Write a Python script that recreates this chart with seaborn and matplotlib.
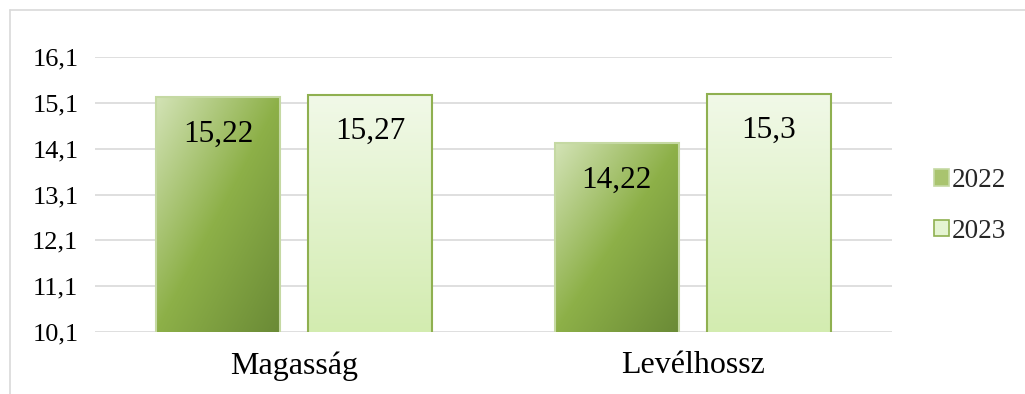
import numpy as np
import pandas as pd
import matplotlib
matplotlib.use("Agg")
import matplotlib.pyplot as plt
import seaborn as sns
from matplotlib.colors import LinearSegmentedColormap
from matplotlib.patches import Patch
from matplotlib.lines import Line2D

categories = ["Magasság", "Levélhossz"]
years = ["2022", "2023"]
values_2022 = [15.22, 14.22]
values_2023 = [15.27, 15.3]
label_2022 = ["15,22", "14,22"]
label_2023 = ["15,27", "15,3"]
y_ticks = [10.1, 11.1, 12.1, 13.1, 14.1, 15.1, 16.1]
y_tick_labels = ["10,1", "11,1", "12,1", "13,1", "14,1", "15,1", "16,1"]

df = pd.DataFrame({
    "cat": categories * 2,
    "year": [years[0]] * 2 + [years[1]] * 2,
    "val": values_2022 + values_2023,
})

sns.set_theme(style="white")
plt.rcParams["font.family"] = ["Liberation Serif", "DejaVu Serif"]

W, H = 1025, 394
fig = plt.figure(figsize=(W / 100, H / 100), dpi=100)
ax = fig.add_axes([95 / W, 1 - 332 / H, (892 - 95) / W, (332 - 57) / H])

sns.barplot(data=df, x="cat", y="val", hue="year", order=categories, hue_order=years,
            width=0.764, gap=0.184, ax=ax, legend=False,
            palette=["#8db048", "#e5f4d2"], saturation=1, errorbar=None)

ax.set_ylim(y_ticks[0], y_ticks[-1])
ax.set_yticks(y_ticks)
ax.set_yticklabels(y_tick_labels)
ax.set_xlabel("")
ax.set_ylabel("")
for s in ax.spines.values():
    s.set_visible(False)
ax.yaxis.grid(True, color="#d9d9d9", lw=1.2)
ax.set_axisbelow(True)
ax.tick_params(axis="y", length=0, pad=12, labelsize=19, labelcolor="black")
ax.tick_params(axis="x", length=0, pad=14, labelsize=23, labelcolor="black")

cmap22 = LinearSegmentedColormap.from_list("g22", ["#d3e3b6", "#8db048", "#6a8a36"])
cmap23 = LinearSegmentedColormap.from_list("g23", ["#f1f9e8", "#d3ecb0"])

patches = list(ax.patches)
n = len(categories)
labels = label_2022 + label_2023
edgecols = ["#c5d9a3"] * n + ["#8fb050"] * n
for i, p in enumerate(patches):
    x0 = p.get_x()
    w = p.get_width()
    top = p.get_height() + p.get_y()
    if i < n:
        u = np.linspace(0, 1, 200)
        U, V = np.meshgrid(u, u)
        grad = cmap22((U + V) / 2)
    else:
        v = np.linspace(0, 1, 200)[:, None] * np.ones((1, 10))
        grad = cmap23(v)
    im = ax.imshow(grad, extent=(x0, x0 + w, y_ticks[0], top), origin="upper",
                   aspect="auto", zorder=2, interpolation="bilinear")
    im.set_clip_path(p)
    p.set_facecolor("none")
    p.set_edgecolor(edgecols[i])
    p.set_linewidth(1.5)
    p.set_zorder(3)
    ax.annotate(labels[i], (x0 + w / 2, top), xytext=(0, -16), textcoords="offset points",
                ha="center", va="top", fontsize=22.5, color="black", zorder=4)

ax.set_xlim(-0.5, n - 0.5)

handles = [Patch(facecolor="#a9c46f", edgecolor="#c5d9a3", lw=1.2),
           Patch(facecolor="#e5f4d2", edgecolor="#8fb050", lw=1.2)]
fig.legend(handles, years, loc="center left", bbox_to_anchor=(923 / W, 1 - 206 / H),
           frameon=False, fontsize=19.5, handlelength=0.55, handleheight=0.55,
           handletextpad=0.1, labelspacing=0.95, borderaxespad=0)

fig.add_artist(Line2D([9.5 / W, 9.5 / W], [0, 1 - 9.5 / H], transform=fig.transFigure,
                      color="#d9d9d9", lw=1.2))
fig.add_artist(Line2D([9.5 / W, 1], [1 - 9.5 / H, 1 - 9.5 / H], transform=fig.transFigure,
                      color="#d9d9d9", lw=1.2))

fig.savefig("out.png", dpi=100)
